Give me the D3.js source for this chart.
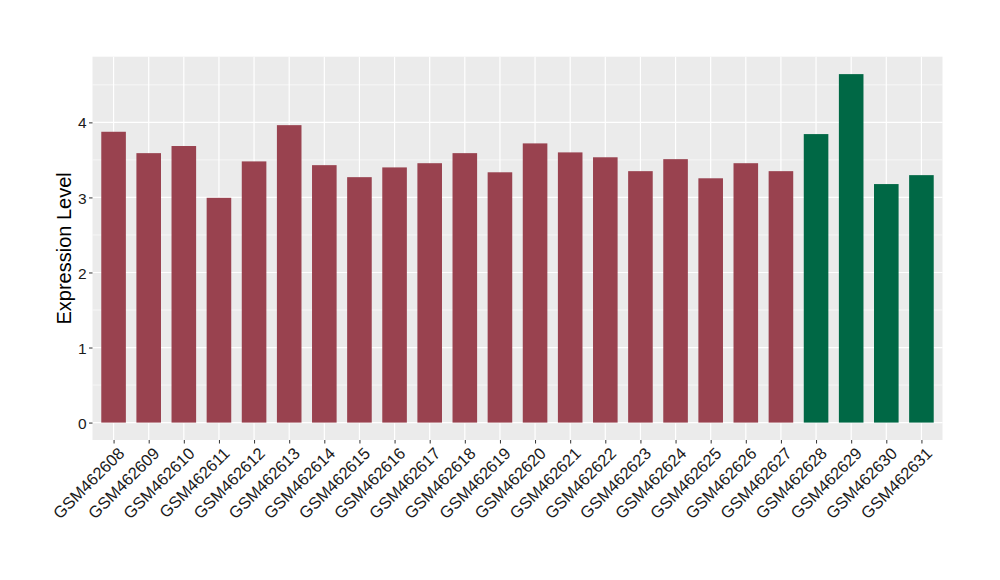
<!DOCTYPE html>
<html>
<head>
<meta charset="utf-8">
<script src="https://cdn.jsdelivr.net/npm/d3@7"></script>
<style>
  html, body { margin: 0; padding: 0; background: #ffffff; }
  svg { display: block; font-family: "Liberation Sans", Arial, Helvetica, sans-serif; }
</style>
</head>
<body>
<svg id="chart" width="1000" height="580"></svg>
<script>
const categories = ["GSM462608","GSM462609","GSM462610","GSM462611","GSM462612","GSM462613","GSM462614","GSM462615","GSM462616","GSM462617","GSM462618","GSM462619","GSM462620","GSM462621","GSM462622","GSM462623","GSM462624","GSM462625","GSM462626","GSM462627","GSM462628","GSM462629","GSM462630","GSM462631"];
const values = [3.875, 3.59, 3.685, 2.995, 3.48, 3.963, 3.43, 3.27, 3.40, 3.456, 3.59, 3.335, 3.72, 3.60, 3.535, 3.35, 3.51, 3.255, 3.456, 3.35, 3.844, 4.643, 3.178, 3.297];
const groups = ["A","A","A","A","A","A","A","A","A","A","A","A","A","A","A","A","A","A","A","A","B","B","B","B"];
const yTicks = [0, 1, 2, 3, 4];
const yLabel = "Expression Level";

const groupColor = { A: "#99424F", B: "#006845" };

const panel = { left: 92.5, right: 942.5, top: 56.7, bottom: 440 };
const svg = d3.select("#chart");

const maxV = d3.max(values);
const yDomain = [-0.05 * maxV, maxV * 1.05];
const y = d3.scaleLinear().domain(yDomain).range([panel.bottom, panel.top]);

const n = categories.length;
const unit = (panel.right - panel.left) / (n - 1 + 1.2);
const x = d3.scalePoint().domain(categories)
  .range([panel.left + 0.6 * unit, panel.right - 0.6 * unit]);
const barW = 0.7 * unit;

svg.append("rect")
  .attr("x", panel.left).attr("y", panel.top)
  .attr("width", panel.right - panel.left).attr("height", panel.bottom - panel.top)
  .attr("fill", "#EBEBEB");

const minor = d3.range(0.5, yDomain[1], 1);
svg.append("g").selectAll("line").data(minor).join("line")
  .attr("x1", panel.left).attr("x2", panel.right)
  .attr("y1", d => y(d)).attr("y2", d => y(d))
  .attr("stroke", "#ffffff").attr("stroke-width", 0.6);

svg.append("g").selectAll("line").data(yTicks).join("line")
  .attr("x1", panel.left).attr("x2", panel.right)
  .attr("y1", d => y(d)).attr("y2", d => y(d))
  .attr("stroke", "#ffffff").attr("stroke-width", 1.2);

svg.append("g").selectAll("line").data(categories).join("line")
  .attr("x1", d => x(d)).attr("x2", d => x(d))
  .attr("y1", panel.top).attr("y2", panel.bottom)
  .attr("stroke", "#ffffff").attr("stroke-width", 1.2);

svg.append("g").selectAll("rect").data(categories).join("rect")
  .attr("x", d => x(d) - barW / 2)
  .attr("width", barW)
  .attr("y", (d, i) => y(values[i]))
  .attr("height", (d, i) => y(0) - y(values[i]))
  .attr("fill", (d, i) => groupColor[groups[i]]);

const yAxis = d3.axisLeft(y).tickValues(yTicks).tickSize(3.5).tickPadding(2.5).tickFormat(d3.format("d"));
const gy = svg.append("g").attr("transform", `translate(${panel.left},0)`).call(yAxis)
  .attr("font-size", null).attr("font-family", null);
gy.select(".domain").remove();
gy.selectAll(".tick line").attr("stroke", "#333333").attr("stroke-width", 1);
gy.selectAll(".tick text").attr("fill", "#1a1a1a").style("font-size", "15.5px").attr("dy", "0.36em");

const xAxis = d3.axisBottom(x).tickSize(3.5).tickPadding(2);
const gx = svg.append("g").attr("transform", `translate(0,${panel.bottom})`).call(xAxis)
  .attr("font-size", null).attr("font-family", null);
gx.select(".domain").remove();
gx.selectAll(".tick line").attr("stroke", "#333333").attr("stroke-width", 1);
gx.selectAll(".tick text")
  .attr("fill", "#1a1a1a").style("font-size", "16.5px")
  .attr("text-anchor", "end")
  .attr("x", 0).attr("y", 0).attr("dy", "0.72em")
  .attr("transform", "translate(3,6) rotate(-45)");

svg.append("text")
  .attr("transform", `translate(71,${(panel.top + panel.bottom) / 2}) rotate(-90)`)
  .attr("text-anchor", "middle")
  .style("font-size", "20px")
  .attr("fill", "#000000")
  .text(yLabel);
</script>
</body>
</html>
